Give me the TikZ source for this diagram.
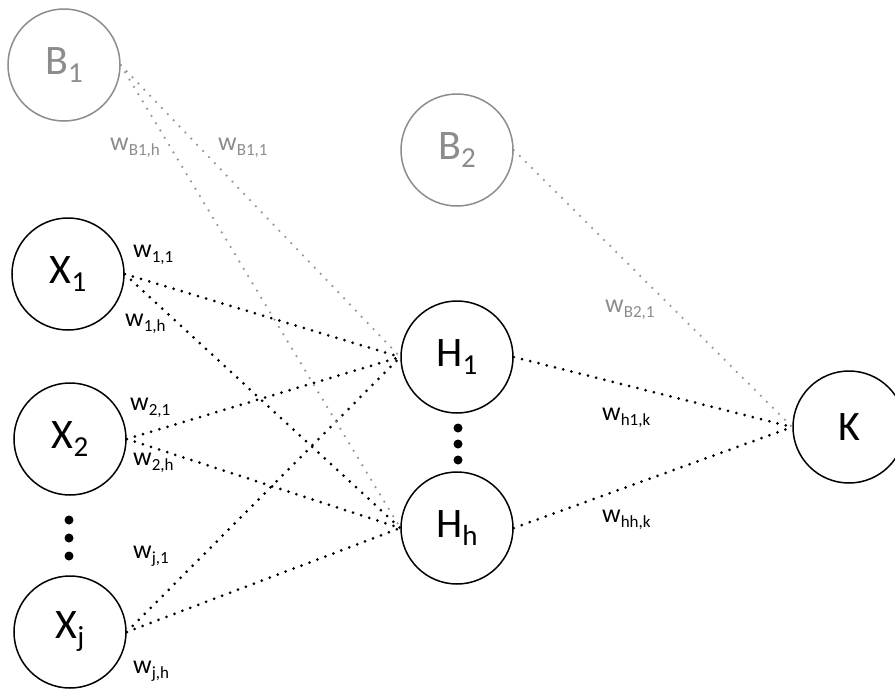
\documentclass[tikz,border=0pt]{standalone}
\usepackage{fontspec}
\setmainfont{Carlito}
\definecolor{biasgray}{RGB}{140,140,140}
\definecolor{biasline}{RGB}{150,150,150}
% node caption: big letter with a lowered index
\newcommand{\ncap}[2]{\fontsize{42}{42}\selectfont #1\raisebox{-8pt}{\fontsize{29}{29}\selectfont #2}}
% weight caption: w with a lowered index
\newcommand{\wcap}[1]{\fontsize{26}{26}\selectfont w\raisebox{-5pt}{\fontsize{17}{17}\selectfont #1}}
\begin{document}
\begin{tikzpicture}[x=1pt,y=-1pt,
  neuron/.style={circle,draw=black,line width=1.5pt,minimum size=112pt,inner sep=0pt},
  biasneuron/.style={neuron,draw=biasgray,text=biasgray},
  link/.style={line width=3pt,line cap=round,dash pattern=on 0pt off 8.5pt},
  biaslink/.style={link,line width=2.5pt,draw=biasline},
  wlab/.style={anchor=base west,inner sep=0pt},
  biaswlab/.style={wlab,text=biasgray},
  vdot/.style={circle,fill=black,minimum size=9pt,inner sep=0pt}]
\useasboundingbox (0,0) rectangle (895,689);

% bias units
\node[biasneuron] (B1) at (64,65) {\ncap{B}{1}};
\node[biasneuron] (B2) at (457,150) {\ncap{B}{2}};

% input layer
\node[neuron] (X1) at (68,274) {\ncap{X}{1}};
\node[neuron] (X2) at (70,439) {\ncap{X}{2}};
\node[neuron] (Xj) at (70,632) {\ncap{X}{j}};

% hidden layer
\node[neuron] (H1) at (457,357) {\ncap{H}{1}};
\node[neuron] (Hh) at (457,528) {\ncap{H}{h}};

% output unit
\node[neuron] (K) at (849,427) {\fontsize{42}{42}\selectfont K};

% ellipsis dots
\node[vdot] (ea) at (69,520) {};
\node[vdot] (eb) at (69,538) {};
\node[vdot] (ec) at (69,556) {};
\node[vdot] (ed) at (458,428) {};
\node[vdot] (ee) at (458,444) {};
\node[vdot] (ef) at (458,460) {};

% weighted connections
\foreach \s in {X1,X2,Xj}{
  \draw[link] (\s.east) -- (H1.west);
  \draw[link] (\s.east) -- (Hh.west);
}
\draw[biaslink] (B1.east) -- (H1.west);
\draw[biaslink] (B1.east) -- (Hh.west);
\draw[biaslink] (B2.east) -- (K.west);
\draw[link] (H1.east) -- (K.west);
\draw[link] (Hh.east) -- (K.west);

% weight captions
\node[wlab] (w11) at (133,257) {\wcap{1,1}};
\node[wlab] (w1h) at (125,326) {\wcap{1,h}};
\node[wlab] (w21) at (130,410) {\wcap{2,1}};
\node[wlab] (w2h) at (133,465) {\wcap{2,h}};
\node[wlab] (wj1) at (133,558) {\wcap{j,1}};
\node[wlab] (wjh) at (133,673) {\wcap{j,h}};
\node[biaswlab] (wb1h) at (110,150) {\wcap{B1,h}};
\node[biaswlab] (wb11) at (218,150) {\wcap{B1,1}};
\node[biaswlab] (wb21) at (605,312) {\wcap{B2,1}};
\node[wlab] (wh1k) at (602,420) {\wcap{h1,k}};
\node[wlab] (whhk) at (602,522) {\wcap{hh,k}};
\end{tikzpicture}
\end{document}
